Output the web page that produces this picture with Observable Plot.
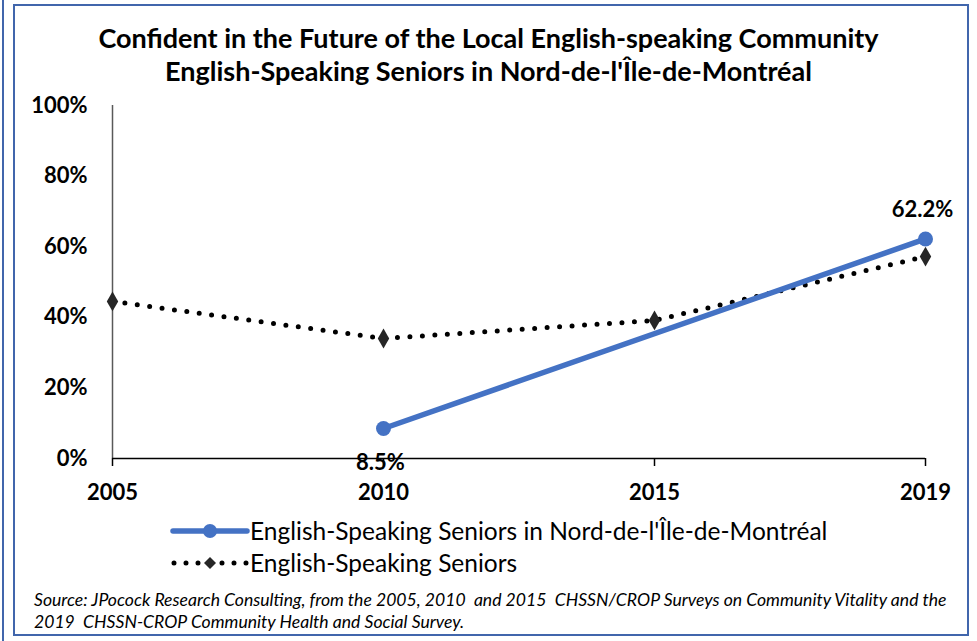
<!DOCTYPE html>
<html>
<head>
<meta charset="utf-8">
<script src="https://cdn.jsdelivr.net/npm/d3@7"></script>
<script src="https://cdn.jsdelivr.net/npm/@observablehq/plot@0.6"></script>
<style>
  html, body { margin: 0; padding: 0; background: #fff; }
  #wrap { position: relative; width: 977px; height: 641px; background: #fff; overflow: hidden; font-family: Lato, "Open Sans", sans-serif; color: #000; }
  .outer { position: absolute; left: 2px; top: 0; width: 2px; height: 641px; background: #4166AC; }
  .box { position: absolute; left: 13px; top: 4px; width: 952px; height: 628px; border: 2.5px solid #4166AC; }
  #title { position: absolute; left: 0; width: 977px; top: 21px; text-align: center; font-weight: bold; font-size: 27px; line-height: 33px; }
  #chart { position: absolute; left: 0; top: 0; }
  #legend { position: absolute; left: 170px; top: 515px; font-size: 24.5px; line-height: 32px; }
  .row { display: flex; align-items: center; height: 32px; }
  .row svg { margin-right: 0px; }
  #caption { position: absolute; left: 34px; top: 589px; font-style: italic; font-size: 17.6px; letter-spacing: 0; line-height: 22px; white-space: nowrap; }
</style>
</head>
<body>
<div id="wrap">
  <div class="outer"></div>
  <div class="box"></div>
  <div id="chart"></div>
  <div id="title"></div>
  <div id="legend"></div>
  <div id="caption"></div>
</div>
<script>
const titleLines = [
  "Confident in the Future of the Local English-speaking Community",
  "English-Speaking Seniors in Nord-de-l'Île-de-Montréal"
];
const years = ["2005", "2010", "2015", "2019"];
const nordValues = [null, 8.5, null, 62.2];
const seniorsValues = [44.5, 34.0, 39.1, 57.2];
const yTicks = [0, 20, 40, 60, 80, 100];
const seriesNames = ["English-Speaking Seniors in Nord-de-l'Île-de-Montréal", "English-Speaking Seniors"];
const captionLines = [
  "Source: JPocock Research Consulting, from the 2005, 2010  and 2015  CHSSN/CROP Surveys on Community Vitality and the",
  "2019  CHSSN-CROP Community Health and Social Survey."
];
const blue = "#4472C4";

const nordData = years.map((year, i) => ({year, value: nordValues[i]})).filter(d => d.value != null);
const seniorsData = years.map((year, i) => ({year, value: seniorsValues[i]}));
const labelData = nordData.map((d, i) => ({...d, label: d.value.toFixed(1) + "%", below: i === 0}));

document.getElementById("title").innerHTML = titleLines.map(t => `<div>${t}</div>`).join("");
document.getElementById("caption").innerHTML = captionLines.map(t => `<div>${t.replace(/  /g, " &nbsp;")}</div>`).join("");

const chart = Plot.plot({
  width: 977,
  height: 520,
  marginLeft: 112,
  marginRight: 52,
  marginTop: 105,
  marginBottom: 62,
  x: {type: "point", domain: years, padding: 0},
  y: {domain: [0, 100]},
  style: {fontFamily: "Lato, 'Open Sans', sans-serif", background: "transparent", overflow: "visible", color: "#000"},
  marks: [
    Plot.ruleX([years[0]], {stroke: "#595959", strokeWidth: 1.5}),
    Plot.ruleY([0], {stroke: "#000", strokeWidth: 1.5}),
    Plot.axisX({tickSize: 8, tickPadding: 18, fontSize: 22, fontWeight: "bold", stroke: "#000", strokeWidth: 1.5, strokeOpacity: 1, label: null}),
    Plot.axisY({ticks: yTicks, tickSize: 0, tickPadding: 25, fontSize: 22, fontWeight: "bold", tickFormat: d => d + "%", label: null}),
    Plot.line(seniorsData, {x: "year", y: "value", stroke: "#000", strokeWidth: 5, strokeDasharray: "0,12.5", strokeLinecap: "round"}),
    Plot.dot(seniorsData, {x: "year", y: "value", symbol: "diamond", r: 6, fill: "#262626", stroke: null}),
    Plot.line(nordData, {x: "year", y: "value", stroke: blue, strokeWidth: 5.5}),
    Plot.dot(nordData, {x: "year", y: "value", r: 7.5, fill: blue, stroke: null}),
    Plot.text(labelData.filter(d => d.below), {x: "year", y: "value", text: "label", dy: 34, dx: -3, fontSize: 22, fontWeight: "bold", fill: "#000"}),
    Plot.text(labelData.filter(d => !d.below), {x: "year", y: "value", text: "label", dy: -29, dx: -3, fontSize: 22, fontWeight: "bold", fill: "#000"})
  ]
});
document.getElementById("chart").appendChild(chart);

const legend = document.getElementById("legend");
legend.innerHTML = `
  <div class="row"><svg width="80" height="20"><line x1="3" y1="10" x2="77" y2="10" stroke="${blue}" stroke-width="5.5" stroke-linecap="round"/><circle cx="40" cy="10" r="7" fill="${blue}"/></svg><span>${seriesNames[0]}</span></div>
  <div class="row"><svg width="80" height="20"><line x1="4" y1="10" x2="77" y2="10" stroke="#000" stroke-width="5" stroke-dasharray="0,12" stroke-linecap="round"/><path d="M40,4 L46,10 L40,16 L34,10 Z" fill="#262626"/></svg><span>${seriesNames[1]}</span></div>
`;
</script>
</body>
</html>
